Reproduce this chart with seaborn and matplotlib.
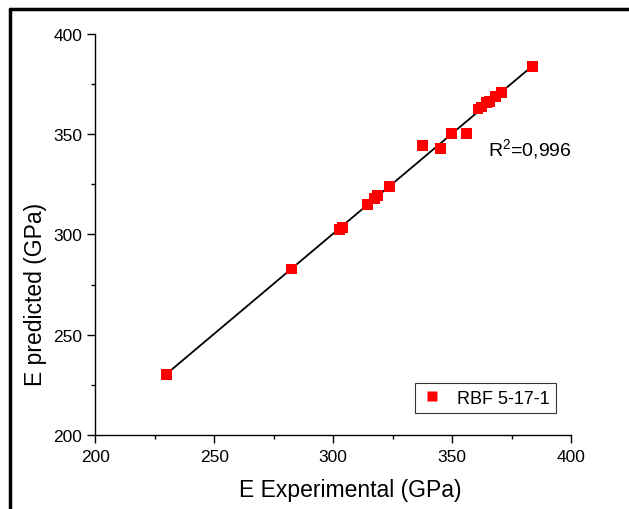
import matplotlib
matplotlib.use("Agg")
import matplotlib.pyplot as plt
from matplotlib.lines import Line2D
from matplotlib.ticker import MultipleLocator
import seaborn as sns
import pandas as pd

# Data
e_experimental = [230.0, 282.3, 302.8, 304.0, 314.5, 317.4, 318.5, 323.5, 337.6, 345.1,
                  349.8, 355.9, 360.9, 362.5, 364.6, 365.9, 368.4, 370.9, 383.7]
e_predicted = [230.1, 282.8, 302.5, 303.5, 315.1, 318.0, 319.4, 324.0, 344.5, 343.1,
               350.5, 350.6, 362.6, 363.6, 365.6, 366.1, 368.6, 370.6, 383.9]
series_name = "RBF 5-17-1"
r2_text = "R$^2$=0,996"
x_label = "E Experimental (GPa)"
y_label = "E predicted (GPa)"

df = pd.DataFrame({"exp": e_experimental, "pred": e_predicted, "model": series_name})

sns.set_style("ticks")
plt.rcParams["font.family"] = ["Liberation Sans", "DejaVu Sans"]
plt.rcParams["mathtext.fontset"] = "custom"
plt.rcParams["mathtext.rm"] = "Liberation Sans"
for k in ["text.color", "axes.labelcolor", "xtick.color", "ytick.color"]:
    plt.rcParams[k] = "black"

fig = plt.figure(figsize=(6.29, 5.10), dpi=100)
ax = fig.add_axes([0.1515, 0.1451, 0.9078 - 0.1515, 0.9314 - 0.1451])

sns.regplot(data=df, x="exp", y="pred", scatter=False, ci=None, ax=ax,
            line_kws=dict(color="black", lw=1.3))
sns.scatterplot(data=df, x="exp", y="pred", hue="model", palette=["#ff0000"],
                marker="s", s=62, edgecolor="none", ax=ax, zorder=3)

ax.set_xlim(200, 400)
ax.set_ylim(200, 400)
ax.xaxis.set_major_locator(MultipleLocator(50))
ax.yaxis.set_major_locator(MultipleLocator(50))
ax.xaxis.set_minor_locator(MultipleLocator(25))
ax.yaxis.set_minor_locator(MultipleLocator(25))
ax.tick_params(which="major", direction="out", length=6, width=1, labelsize=12.5, color="black")
ax.tick_params(which="minor", direction="out", length=3, width=1, color="black")
ax.tick_params(axis="x", which="major", pad=4)
for sp in ["left", "bottom"]:
    ax.spines[sp].set_linewidth(1)
    ax.spines[sp].set_color("black")
ax.spines["top"].set_visible(False)
ax.spines["right"].set_visible(False)

ax.set_xlabel(x_label, fontsize=16.5)
ax.set_ylabel(y_label, fontsize=16.5)
ax.xaxis.set_label_coords(0.535, -0.108)
ax.yaxis.set_label_coords(-0.1015, 0.352)

ax.text(0.825, 0.715, r2_text, transform=ax.transAxes, fontsize=14, ha="left", va="center")

leg = ax.legend(loc="lower right", bbox_to_anchor=(0.9685, 0.055), frameon=True,
                fancybox=False, fontsize=13, markerscale=1.0, handletextpad=0.8,
                borderpad=0.35, handlelength=1.2, borderaxespad=0)
leg.get_frame().set_edgecolor("black")
leg.get_frame().set_linewidth(0.8)

# Figure frame (thick border at left and top)
fig.add_artist(Line2D([10 / 629, 10 / 629], [0, 1 - 10 / 510], color="black", lw=2.5,
                      transform=fig.transFigure))
fig.add_artist(Line2D([10 / 629, 1], [1 - 10 / 510, 1 - 10 / 510], color="black", lw=2.5,
                      transform=fig.transFigure))

fig.savefig("out.png", dpi=100)
